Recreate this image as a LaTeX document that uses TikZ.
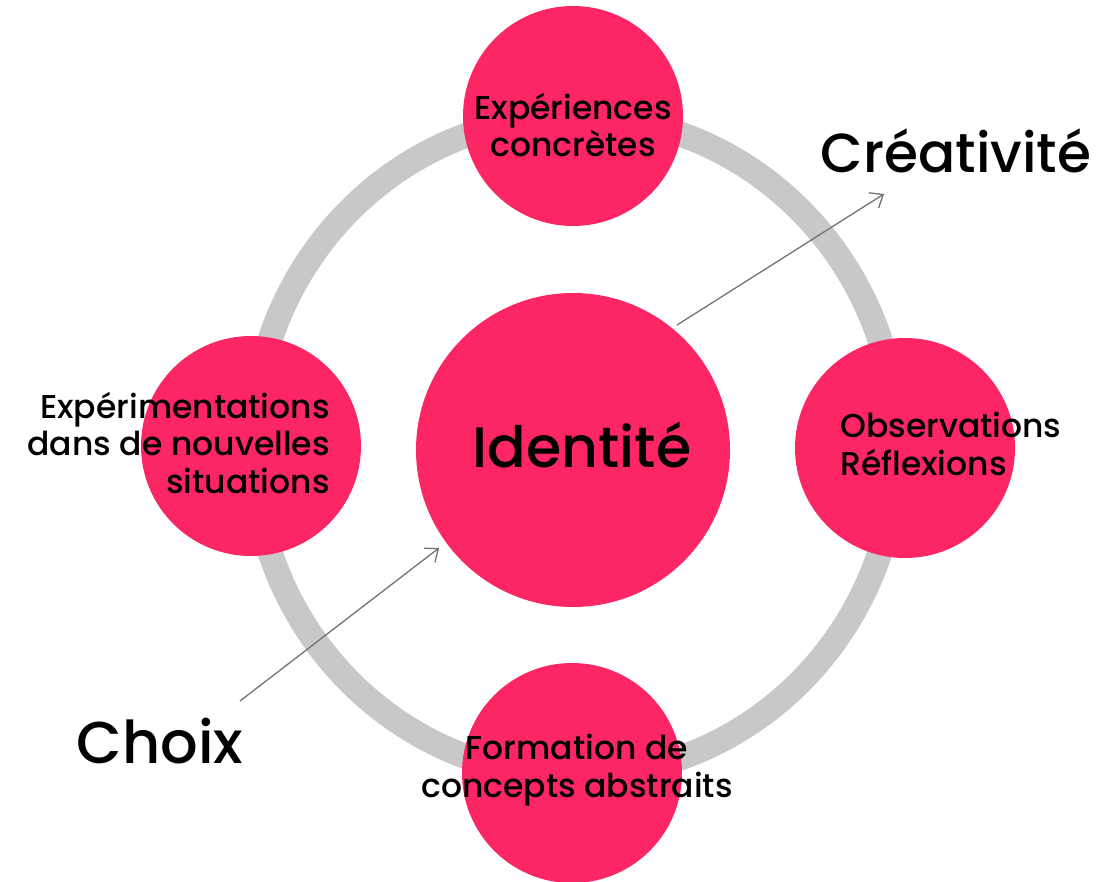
\documentclass[tikz,border=0pt]{standalone}
\usepackage{fontspec}
\setmainfont{Poppins Medium}
\usetikzlibrary{arrows.meta}
\definecolor{pinkc}{RGB}{253,38,100}
\definecolor{ringc}{RGB}{200,200,200}
\definecolor{arrc}{RGB}{115,115,115}
\begin{document}
\begin{tikzpicture}[x=1pt,y=-1pt,
  bubble/.style={circle,fill=pinkc,inner sep=0pt,minimum size=220pt},
  hub/.style={circle,fill=pinkc,inner sep=0pt,minimum size=314pt},
  lbl/.style={inner sep=0pt,font=\fontsize{33}{37.5}\selectfont,text=black},
  big/.style={inner sep=0pt,font=\fontsize{55}{60}\selectfont,text=black},
  flow/.style={draw=arrc,line width=1.3pt,-{Straight Barb[length=11pt,width=18pt]}}]
\fill[white] (0,0) rectangle (1099,882);
\useasboundingbox (0,0) rectangle (1099,882);
\draw[ringc,line width=25pt] (575,446) ellipse [x radius=322pt,y radius=330pt];
\node[bubble] (top) at (573,116) {};
\node[bubble] (left) at (251,446) {};
\node[bubble] (right) at (905,448) {};
\node[bubble] (bottom) at (572,773) {};
\node[hub] (hub) at (573,450) {};
\coordinate (c1s) at (677,325);
\coordinate (c1e) at (884,194);
\coordinate (c2s) at (240,701);
\coordinate (c2e) at (439,548);
\draw[flow] (c1s) -- (c1e);
\draw[flow] (c2s) -- (c2e);
\node[lbl,align=center,anchor=base] (tTop) at (573,157) {Expériences\\concrètes};
\node[lbl,align=right,anchor=base east] (tLeft) at (330,493) {Expérimentations\\dans de nouvelles\\situations};
\node[lbl,align=left,anchor=base west] (tRight) at (840,475) {Observations\\Réflexions};
\node[lbl,align=center,anchor=base] (tBot) at (577,797) {Formation de\\concepts abstraits};
\node[big,font=\fontsize{57}{60}\selectfont,anchor=base] (tId) at (582,467) {Identité};
\node[big,anchor=base] (tCr) at (956,173) {Créativité};
\node[big,font=\fontsize{59}{62}\selectfont,anchor=base] (tCh) at (160,763) {Choix};
\end{tikzpicture}
\end{document}
